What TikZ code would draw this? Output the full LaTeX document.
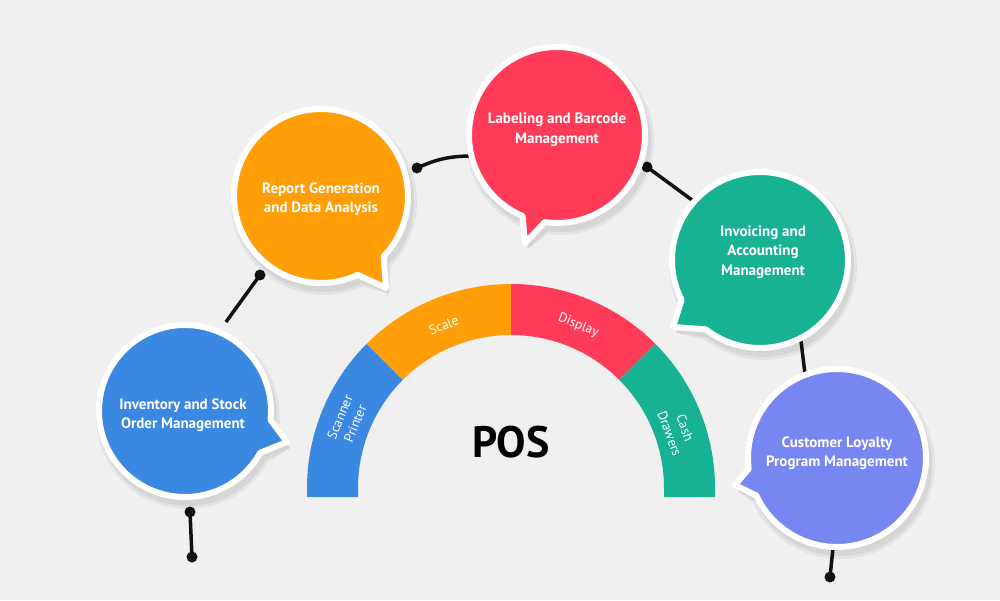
\documentclass[tikz,border=0pt]{standalone}
\usepackage{fontspec}
\setmainfont{PT Sans}
\definecolor{bgc}{HTML}{F0F0F0}
\definecolor{cblue}{HTML}{3A88E2}
\definecolor{corange}{HTML}{FF9E06}
\definecolor{cred}{HTML}{FF3B57}
\definecolor{cgreen}{HTML}{16B292}
\definecolor{cpurple}{HTML}{7886F2}
\definecolor{linkc}{HTML}{111111}
\newcommand\mybubblepath[4]{(#1:#3) arc[start angle=#1, end angle={#2+360}, radius=#3] -- #4 -- cycle}
\newcommand\mybubble[7]{%
  \begin{scope}[shift={(#1,#2)}]
    \begin{scope}[shift={(3,-6)}]
      \fill[black,opacity=0.05] \mybubblepath{#4}{#5}{#3+6}{#6};
      \fill[black,opacity=0.06] \mybubblepath{#4}{#5}{#3+3}{#6};
    \end{scope}
    \filldraw[fill=#7, draw=white, line width=6pt, line join=round] \mybubblepath{#4}{#5}{#3}{#6};
  \end{scope}}
\begin{document}
\begin{tikzpicture}[x=1pt,y=1pt,
  btext/.style={text=white, font=\bfseries\fontsize{15}{19.5}\selectfont, align=center},
  atext/.style={text=white, font=\fontsize{13.5}{16.5}\selectfont, align=center, inner sep=1pt},
  link/.style={draw=linkc, line width=3.5pt},
  knob/.style={circle, fill=linkc, inner sep=0pt, minimum size=11pt}]
\fill[bgc] (0,0) rectangle (1000,600);
\useasboundingbox (0,0) rectangle (1000,600);

% arc segments
\begin{scope}[shift={(511,112)}]
  \fill[cblue] (-204,-9) -- (180:204) arc[start angle=180, end angle=135, radius=204]
     -- (135:153) arc[start angle=135, end angle=180, radius=153] -- (-153,-9) -- cycle;
  \fill[corange] (135:204) arc[start angle=135, end angle=90, radius=204]
     -- (90:153) arc[start angle=90, end angle=135, radius=153] -- cycle;
  \fill[cred] (90:204) arc[start angle=90, end angle=45, radius=204]
     -- (45:153) arc[start angle=45, end angle=90, radius=153] -- cycle;
  \fill[cgreen] (45:204) arc[start angle=45, end angle=0, radius=204] -- (204,-9)
     -- (153,-9) -- (0:153) arc[start angle=0, end angle=45, radius=153] -- cycle;
  \node[atext, rotate=67.5] (l1) at (157.5:177) {Scanner\\Printer};
  \node[atext, rotate=22.5] (l2) at (112.5:176) {Scale};
  \node[atext, rotate=-22.5] (l3) at (67.5:176) {Display};
  \node[atext, rotate=-70] (l4) at (19:176) {Cash\\Drawers};
\end{scope}
\node[font=\bfseries\fontsize{44}{48}\selectfont] (pos) at (511,158) {POS};

% connector end points
\coordinate (k1a) at (190,88);  \coordinate (k1b) at (192,43);
\coordinate (k2a) at (226,278); \coordinate (k2b) at (260,325);
\coordinate (k3a) at (417,432); \coordinate (k3b) at (472,444);
\coordinate (k4a) at (647,433); \coordinate (k4b) at (692,400);
\coordinate (k5a) at (801,259); \coordinate (k5b) at (805,226);
\coordinate (k6a) at (833,52);  \coordinate (k6b) at (830,23);

\draw[link] (k1a) -- (k1b);
\draw[link] (k2a) -- (k2b);
\draw[link] (k3a) to[bend left=12] (k3b);
\draw[link] (k4a) -- (k4b);
\draw[link] (k5a) -- (k5b);
\draw[link] (k6a) -- (k6b);
\node[knob] (d4a) at (k4a) {};

% bubbles
\mybubble{185}{189}{86}{-6}{-29}{(102,-31)}{cblue}
\mybubble{321}{404}{87}{-44}{-65}{(65,-92)}{corange}
\mybubble{557}{465}{88}{-98}{-113}{(-32,-108)}{cred}
\mybubble{760}{340}{88}{-128}{-153}{(-87,-67)}{cgreen}
\mybubble{837}{142}{89}{-155}{-173}{(-102,-27)}{cpurple}

\node[btext] (t1) at (183,185) {Inventory and Stock\\Order Management};
\node[btext] (t2) at (321,401) {Report Generation\\and Data Analysis};
\node[btext] (t3) at (557,470) {Labeling and Barcode\\Management};
\node[btext] (t4) at (763,348) {Invoicing and\\Accounting\\Management};
\node[btext] (t5) at (837,147) {Customer Loyalty\\Program Management};

\node[knob] (d1a) at (k1a) {};
\node[knob] (d1b) at (k1b) {};
\node[knob] (d2b) at (k2b) {};
\node[knob] (d3a) at (k3a) {};
\node[knob] (d6b) at (k6b) {};
\end{tikzpicture}
\end{document}
